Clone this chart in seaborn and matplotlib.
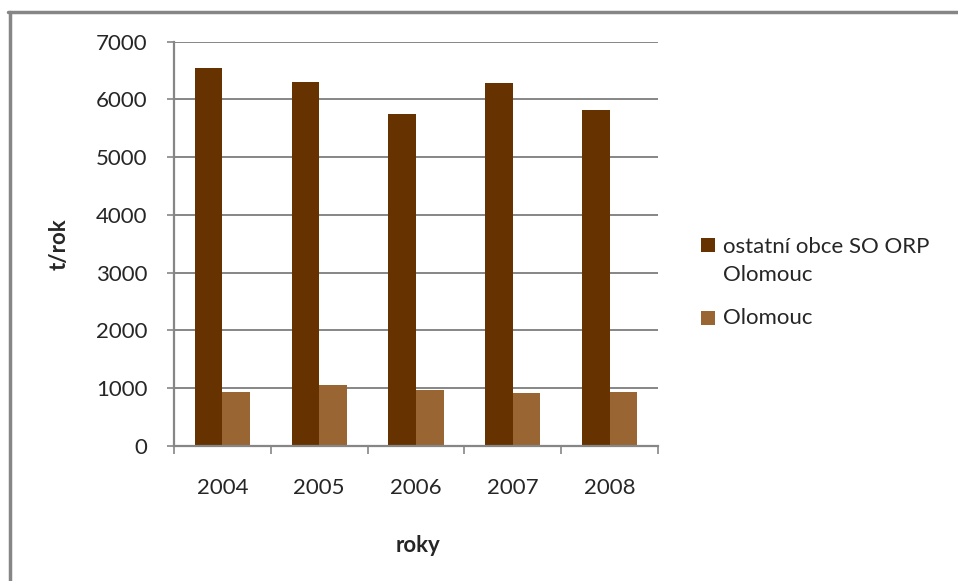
import matplotlib
matplotlib.use('Agg')
import pandas as pd
import matplotlib.pyplot as plt
import seaborn as sns
from matplotlib.lines import Line2D
from matplotlib.patches import Rectangle

# data (t/rok)
years = ['2004', '2005', '2006', '2007', '2008']
ostatni = [6545, 6300, 5750, 6285, 5820]
olomouc = [930, 1050, 965, 915, 930]
series = ['ostatní obce SO ORP\nOlomouc', 'Olomouc']
colors = ['#663300', '#996633']

df = pd.DataFrame({'rok': years * 2,
                   'hodnota': ostatni + olomouc,
                   'serie': [series[0]] * len(years) + [series[1]] * len(years)})

sns.set_style('white')
plt.rcParams['font.family'] = ['Lato', 'DejaVu Sans']
grey = '#868686'
fs = 16

W, H = 958, 581
fig = plt.figure(figsize=(W / 100, H / 100), dpi=100)
ax = fig.add_axes([174 / W, 1 - 446 / H, (658 - 174) / W, (446 - 41.7) / H])

sns.barplot(data=df, x='rok', y='hodnota', hue='serie', palette=colors,
            width=0.57, gap=0, saturation=1, legend=False, linewidth=0,
            ax=ax)

ax.set_ylim(0, 7000)
ax.set_xlim(-0.5, len(years) - 0.5)
ax.set_yticks(range(0, 7001, 1000))
ax.yaxis.grid(True, color=grey, lw=1.4)
ax.set_axisbelow(True)
for s in ['top', 'right']:
    ax.spines[s].set_visible(False)
for s in ['left', 'bottom']:
    ax.spines[s].set_color(grey)
    ax.spines[s].set_linewidth(1.6)

ax.tick_params(axis='y', length=5, width=1.2, color=grey, pad=14,
               labelsize=fs, left=True)
ax.tick_params(axis='x', which='major', length=0, pad=23, labelsize=fs)
ax.set_xticks([i - 0.5 for i in range(len(years) + 1)], minor=True)
ax.tick_params(axis='x', which='minor', length=6, width=1.2, color=grey,
               bottom=True, direction='out')
ax.set_xlabel('')
ax.set_ylabel('')

fig.text(59 / W, 1 - 244 / H, 't/rok', rotation=90, ha='center', va='center',
         fontsize=fs, fontweight='bold')
fig.text(418 / W, 1 - 545 / H, 'roky', ha='center', va='center',
         fontsize=fs, fontweight='bold')

# legend
leg_y = [261, 318]
for lab, col, yc in zip(series, colors, leg_y):
    n = lab.count('\n')
    ytop = yc - 16 * n
    fig.add_artist(Rectangle((701 / W, 1 - (ytop + 7) / H), 14 / W, 14 / H,
                             transform=fig.transFigure, color=col, lw=0))
    fig.text(723 / W, 1 - yc / H, lab, ha='left', va='center',
             fontsize=fs, linespacing=1.55)

# chart frame (top and left edges visible)
fig.add_artist(Line2D([8 / W, 1], [1 - 11.5 / H] * 2, color=grey, lw=2.5,
                      transform=fig.transFigure))
fig.add_artist(Line2D([9.5 / W] * 2, [0, 1 - 11.5 / H], color=grey, lw=2.5,
                      transform=fig.transFigure))

fig.savefig('out.png', dpi=100, facecolor='white')
